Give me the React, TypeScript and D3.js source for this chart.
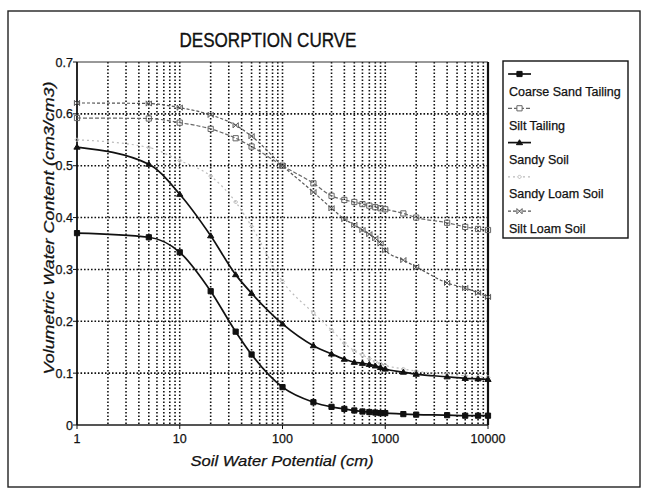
import { useEffect, useRef } from "react";
import * as d3 from "d3";

// suction values (cm) shared by all series
const potentials = [1, 5, 10, 20, 35, 50, 100, 200, 300, 400, 500, 600, 700, 800, 900, 1000, 1500, 2000, 4000, 6000, 8000, 10000];

const coarseSand = [0.37, 0.362, 0.333, 0.258, 0.18, 0.136, 0.073, 0.044, 0.035, 0.031, 0.028, 0.026, 0.025, 0.024, 0.023, 0.023, 0.021, 0.02, 0.019, 0.018, 0.018, 0.018];
const siltTailing = [0.592, 0.591, 0.583, 0.571, 0.553, 0.537, 0.5, 0.466, 0.442, 0.434, 0.43, 0.426, 0.423, 0.42, 0.418, 0.416, 0.408, 0.4, 0.39, 0.382, 0.378, 0.376];
const sandySoil = [0.536, 0.503, 0.445, 0.365, 0.29, 0.254, 0.195, 0.153, 0.137, 0.127, 0.121, 0.119, 0.117, 0.114, 0.111, 0.108, 0.102, 0.098, 0.093, 0.09, 0.089, 0.088];
const sandyLoam = [0.55, 0.535, 0.51, 0.48, 0.43, 0.383, 0.277, 0.216, 0.183, 0.158, 0.143, 0.135, 0.128, 0.122, 0.118, 0.115, 0.108, 0.104, 0.098, 0.095, 0.093, 0.092];
const siltLoam = [0.621, 0.62, 0.612, 0.598, 0.578, 0.557, 0.5, 0.449, 0.418, 0.397, 0.386, 0.376, 0.368, 0.36, 0.35, 0.337, 0.318, 0.305, 0.274, 0.264, 0.255, 0.247];

const seriesNames = ["Coarse Sand Tailing", "Silt Tailing", "Sandy Soil", "Sandy Loam Soil", "Silt Loam Soil"];
const seriesValues = [coarseSand, siltTailing, sandySoil, sandyLoam, siltLoam];

const xTicks = [1, 10, 100, 1000, 10000];
const yTicks = [0, 0.1, 0.2, 0.3, 0.4, 0.5, 0.6, 0.7];

type Style = { stroke: string; width: number; dash: string | null; marker: string; fill: string };
const styles: Style[] = [
  { stroke: "#111", width: 1.7, dash: null, marker: "square", fill: "#111" },
  { stroke: "#666", width: 1.2, dash: "4 2", marker: "square", fill: "none" },
  { stroke: "#111", width: 1.7, dash: null, marker: "triangle", fill: "#111" },
  { stroke: "#bbb", width: 1.2, dash: "2 3", marker: "diamond", fill: "none" },
  { stroke: "#555", width: 1.2, dash: "3 2", marker: "bowtie", fill: "none" },
];

const FONT = "'Liberation Sans', Arial, Helvetica, sans-serif";

function markerPath(kind: string, s: number) {
  if (kind === "square") return `M${-s},${-s}H${s}V${s}H${-s}Z`;
  if (kind === "triangle") return `M0,${-s * 1.1}L${s * 1.2},${s * 0.8}L${-s * 1.2},${s * 0.8}Z`;
  if (kind === "diamond") return `M0,${-s}L${s},0L0,${s}L${-s},0Z`;
  return `M${-s},${-s}L${s},${s}L${s},${-s}L${-s},${s}Z`;
}

export default function App() {
  const ref = useRef<SVGSVGElement | null>(null);

  useEffect(() => {
    document.body.style.margin = "0";
    const svg = d3.select(ref.current);
    svg.selectAll("*").remove();

    const x = d3.scaleLog().domain([1, 10000]).range([77, 488]);
    const y = d3.scaleLinear().domain([0, 0.7]).range([425, 62]);

    svg.append("rect").attr("width", 648).attr("height", 491).attr("fill", "#fff");
    // outer frame
    svg.append("rect").attr("x", 8).attr("y", 11).attr("width", 632).attr("height", 476)
      .attr("fill", "none").attr("stroke", "#222").attr("stroke-width", 1.4);

    svg.append("text").attr("x", 268).attr("y", 47).attr("text-anchor", "middle")
      .attr("font-family", FONT).attr("font-size", 20).attr("textLength", 177)
      .attr("lengthAdjust", "spacingAndGlyphs").attr("fill", "#111")
      .attr("stroke", "#111").attr("stroke-width", 0.35).text("DESORPTION CURVE");

    const g = svg.append("g");

    // vertical grid (every log minor)
    const minor: number[] = [];
    for (let d = 1; d < 10000; d *= 10) for (let k = 2; k <= 10; k++) if (d * k < 10000) minor.push(d * k);
    minor.forEach((v) => {
      g.append("line").attr("x1", x(v)).attr("x2", x(v)).attr("y1", y(0.7)).attr("y2", y(0))
        .attr("stroke", "#111").attr("stroke-width", 1.6).attr("stroke-dasharray", "1.6 1.9");
    });
    yTicks.slice(1, -1).forEach((v) => {
      g.append("line").attr("x1", x(1)).attr("x2", x(10000)).attr("y1", y(v)).attr("y2", y(v))
        .attr("stroke", "#111").attr("stroke-width", 1.6).attr("stroke-dasharray", "1.6 1.9");
    });

    // frame of plot
    g.append("line").attr("x1", x(1)).attr("x2", x(10000)).attr("y1", y(0.7)).attr("y2", y(0.7)).attr("stroke", "#333").attr("stroke-width", 1);
    g.append("line").attr("x1", x(1)).attr("x2", x(10000)).attr("y1", y(0)).attr("y2", y(0)).attr("stroke", "#555").attr("stroke-width", 1.8);
    g.append("line").attr("x1", x(1)).attr("x2", x(1)).attr("y1", y(0.7)).attr("y2", y(0)).attr("stroke", "#111").attr("stroke-width", 1.8);
    g.append("line").attr("x1", x(10000)).attr("x2", x(10000)).attr("y1", y(0.7)).attr("y2", y(0)).attr("stroke", "#111").attr("stroke-width", 2.2);

    yTicks.forEach((v) => {
      g.append("line").attr("x1", x(1) - 4).attr("x2", x(1)).attr("y1", y(v)).attr("y2", y(v)).attr("stroke", "#111");
      g.append("text").attr("x", x(1) - 4).attr("y", y(v) + 4.5).attr("text-anchor", "end")
        .attr("font-family", FONT).attr("font-size", 12.5).attr("fill", "#111")
        .attr("stroke", "#111").attr("stroke-width", 0.25).text(d3.format("")(+v.toFixed(1)));
    });
    xTicks.forEach((v) => {
      g.append("line").attr("x1", x(v)).attr("x2", x(v)).attr("y1", y(0)).attr("y2", y(0) + 4).attr("stroke", "#111");
      g.append("text").attr("x", x(v)).attr("y", 443).attr("text-anchor", "middle")
        .attr("font-family", FONT).attr("font-size", 12.5).attr("fill", "#111")
        .attr("stroke", "#111").attr("stroke-width", 0.25).text(String(v));
    });

    svg.append("text").attr("x", 282).attr("y", 466).attr("text-anchor", "middle")
      .attr("font-family", FONT).attr("font-style", "italic").attr("font-size", 15)
      .attr("textLength", 183).attr("lengthAdjust", "spacingAndGlyphs").attr("fill", "#111")
      .attr("stroke", "#111").attr("stroke-width", 0.25)
      .text("Soil Water Potential (cm)");
    svg.append("text").attr("transform", "translate(54,228) rotate(-90)").attr("text-anchor", "middle")
      .attr("font-family", FONT).attr("font-style", "italic").attr("font-size", 15)
      .attr("textLength", 293).attr("lengthAdjust", "spacingAndGlyphs").attr("fill", "#111")
      .attr("stroke", "#111").attr("stroke-width", 0.25)
      .text("Volumetric Water Content (cm3/cm3)");

    const line = d3.line<number>()
      .x((_, i) => x(potentials[i]))
      .y((d) => y(d))
      .curve(d3.curveMonotoneX);

    // draw light series first
    [3, 1, 4, 0, 2].forEach((si) => {
      const st = styles[si];
      const vals = seriesValues[si];
      g.append("path").attr("d", line(vals) ?? "").attr("fill", "none")
        .attr("stroke", st.stroke).attr("stroke-width", st.width)
        .attr("stroke-dasharray", st.dash ?? null);
      vals.forEach((v, i) => {
        g.append("path").attr("d", markerPath(st.marker, st.marker === "diamond" ? 2 : 2.6))
          .attr("transform", `translate(${x(potentials[i])},${y(v)})`)
          .attr("fill", st.fill === "none" ? "#fff" : st.fill).attr("fill-opacity", st.fill === "none" ? 0 : 1)
          .attr("stroke", st.stroke).attr("stroke-width", 1);
      });
    });

    // legend
    const lg = svg.append("g");
    lg.append("rect").attr("x", 503).attr("y", 61).attr("width", 125).attr("height", 177)
      .attr("fill", "#fff").attr("stroke", "#111").attr("stroke-width", 1.4);
    seriesNames.forEach((name, i) => {
      const st = styles[i];
      const sy = 74 + i * 34.3;
      lg.append("line").attr("x1", 508).attr("x2", 531).attr("y1", sy).attr("y2", sy)
        .attr("stroke", st.stroke).attr("stroke-width", st.width).attr("stroke-dasharray", st.dash ?? null);
      lg.append("path").attr("d", markerPath(st.marker, st.marker === "diamond" ? 2 : 2.6))
        .attr("transform", `translate(519.5,${sy})`)
        .attr("fill", st.fill === "none" ? "#fff" : st.fill).attr("stroke", st.stroke).attr("stroke-width", 1);
      lg.append("text").attr("x", 509).attr("y", sy + 21.5)
        .attr("font-family", FONT).attr("font-size", 12.5).attr("fill", "#111")
        .attr("stroke", "#111").attr("stroke-width", 0.25).text(name);
    });
  }, []);

  return <svg ref={ref} width={648} height={491} style={{ display: "block" }} />;
}
